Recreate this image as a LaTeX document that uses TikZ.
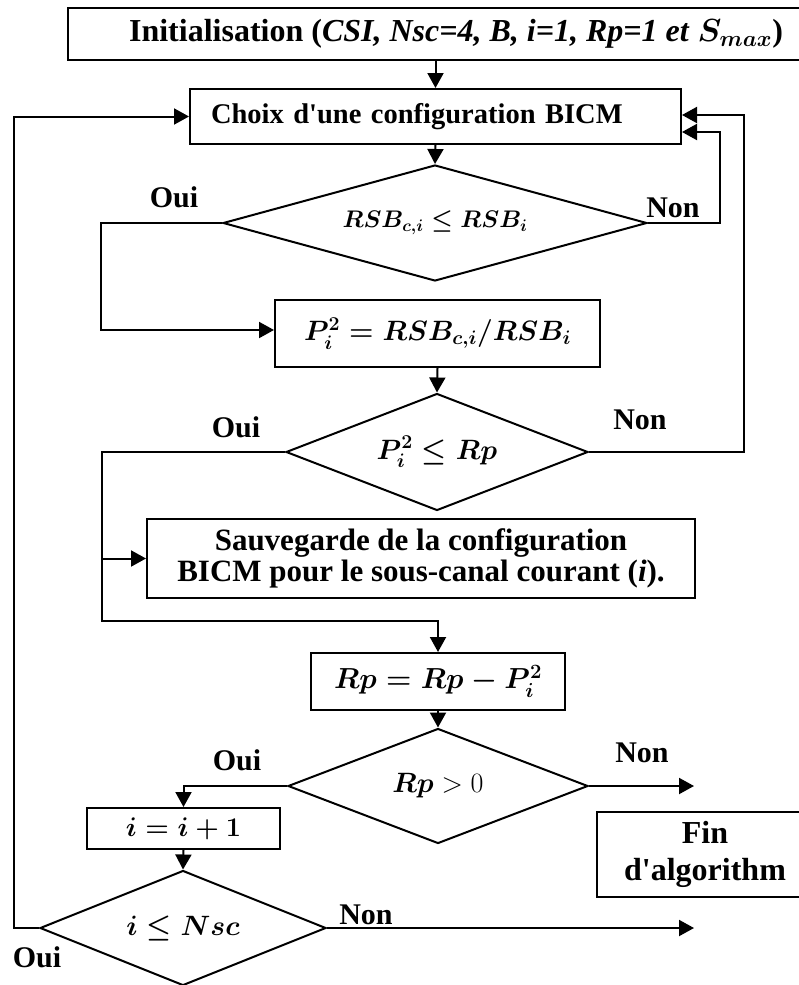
\RequirePackage{fix-cm}
\documentclass[tikz,border=0pt]{standalone}
\usepackage{bm}
\usepackage{fontspec}
\setmainfont{Liberation Serif}
\usetikzlibrary{arrows.meta,shapes.geometric}

\begin{document}
\begin{tikzpicture}[x=1pt, y=-1pt,
    box/.style={rectangle, draw, line width=2pt, inner sep=0pt, align=center, font=\fontsize{29}{29}\selectfont\bfseries\boldmath},
    cond/.style={diamond, draw, line width=2pt, inner sep=0pt, font=\fontsize{28}{28}\selectfont\boldmath},
    lbl/.style={font=\fontsize{30}{30}\selectfont\bfseries},
    arr/.style={-{Triangle[length=15pt, width=16pt]}, line width=2pt}
]
\clip (0,0) rectangle (799,985);

% Boxes
\node[box, minimum width=776pt, minimum height=52pt, font=\fontsize{32}{32}\selectfont\bfseries\boldmath] (init) at (456,34) {Initialisation (\textit{CSI, Nsc=4, B, i=1, Rp=1 et }$S_{max}$)};
\node[box, text width=449pt, inner xsep=21pt, minimum height=55pt, align=left, font=\fontsize{28.5}{28.5}\selectfont\bfseries] (choix) at (435.5,116.5) {Choix d\textquotesingle une configuration BICM};
\node[box, minimum width=325pt, minimum height=67pt, font=\fontsize{28}{28}\selectfont\boldmath] (pbox) at (437.5,333.5) {$P_i^2 = RSB_{c,i}/RSB_i$};
\node[box, minimum width=548pt, minimum height=79pt, font=\fontsize{31}{31}\selectfont\bfseries] (save) at (421,558.5) {Sauvegarde de la configuration\\BICM pour le sous-canal courant (\textit{i}).};
\node[box, minimum width=254pt, minimum height=57pt] (rpbox) at (438,681.5) {$Rp = Rp - P_i^2$};
\node[box, minimum width=193pt, minimum height=41pt, font=\fontsize{27}{27}\selectfont\boldmath] (inc) at (183.5,828.5) {$i = i + 1$};
\node[box, minimum width=216pt, minimum height=85pt, font=\fontsize{32}{37}\selectfont\bfseries] (fin) at (705,854.5) {Fin\\d\textquotesingle algorithm};

% Decisions
\node[cond, aspect=3.65, minimum width=424pt, minimum height=116pt, font=\fontsize{24}{24}\selectfont\boldmath] (d1) at (435,223) {$RSB_{c,i} \leq RSB_i$};
\node[cond, aspect=2.58, minimum width=302pt, minimum height=117pt] (d2) at (437,452) {$P_i^2 \leq Rp$};
\node[cond, aspect=2.61, minimum width=300pt, minimum height=115pt, font=\fontsize{28}{28}\selectfont] (d3) at (438,786) {$\bm{Rp} > 0$};
\node[cond, aspect=2.49, minimum width=286pt, minimum height=115pt] (d4) at (183,928) {$i \leq Nsc$};

% Oui / Non
\foreach \n/\x/\y/\t in {oui1/174/197/Oui, non1/673/208/Non, oui2/236/427/Oui, non2/640/420/Non,
    oui3/237/760/Oui, non3/642/753/Non, oui4/37/957/Oui, non4/366/915/Non}
    \node[lbl] (\n) at (\x,\y) {\t};

% Bends and free ends
\coordinate (rt1) at (720,132);
\coordinate (rt2) at (744,115);
\coordinate (lt1) at (101,330);
\coordinate (lt2) at (102,621);
\coordinate (lt3) at (14,116.5);
\coordinate (end3) at (694,786);
\coordinate (end4) at (694,928);

% Connectors
\draw[arr] (init.south -| choix.north) -- (choix.north);
\draw[arr] (choix.south) -- (d1.north);
\draw[arr] (d1.east) -| (rt1) -- (rt1 -| choix.east);
\draw[arr] (d2.east) -| (rt2) -- (rt2 -| choix.east);
\draw[arr] (d1.west) -| (lt1) -- (lt1 -| pbox.west);
\draw[arr] (pbox.south) -- (d2.north);
\draw[arr] (d2.west) -| (lt2) -| (rpbox.north);
\draw[arr] (lt2 |- save.west) -- (save.west);
\draw[arr] (rpbox.south) -- (d3.north);
\draw[arr] (d3.east) -- (end3);
\draw[arr] (d3.west) -| (inc.north);
\draw[arr] (inc.south) -- (d4.north);
\draw[arr] (d4.east) -- (end4);
\draw[arr] (d4.west) -| (lt3) -- (choix.west);

\end{tikzpicture}
\end{document}
